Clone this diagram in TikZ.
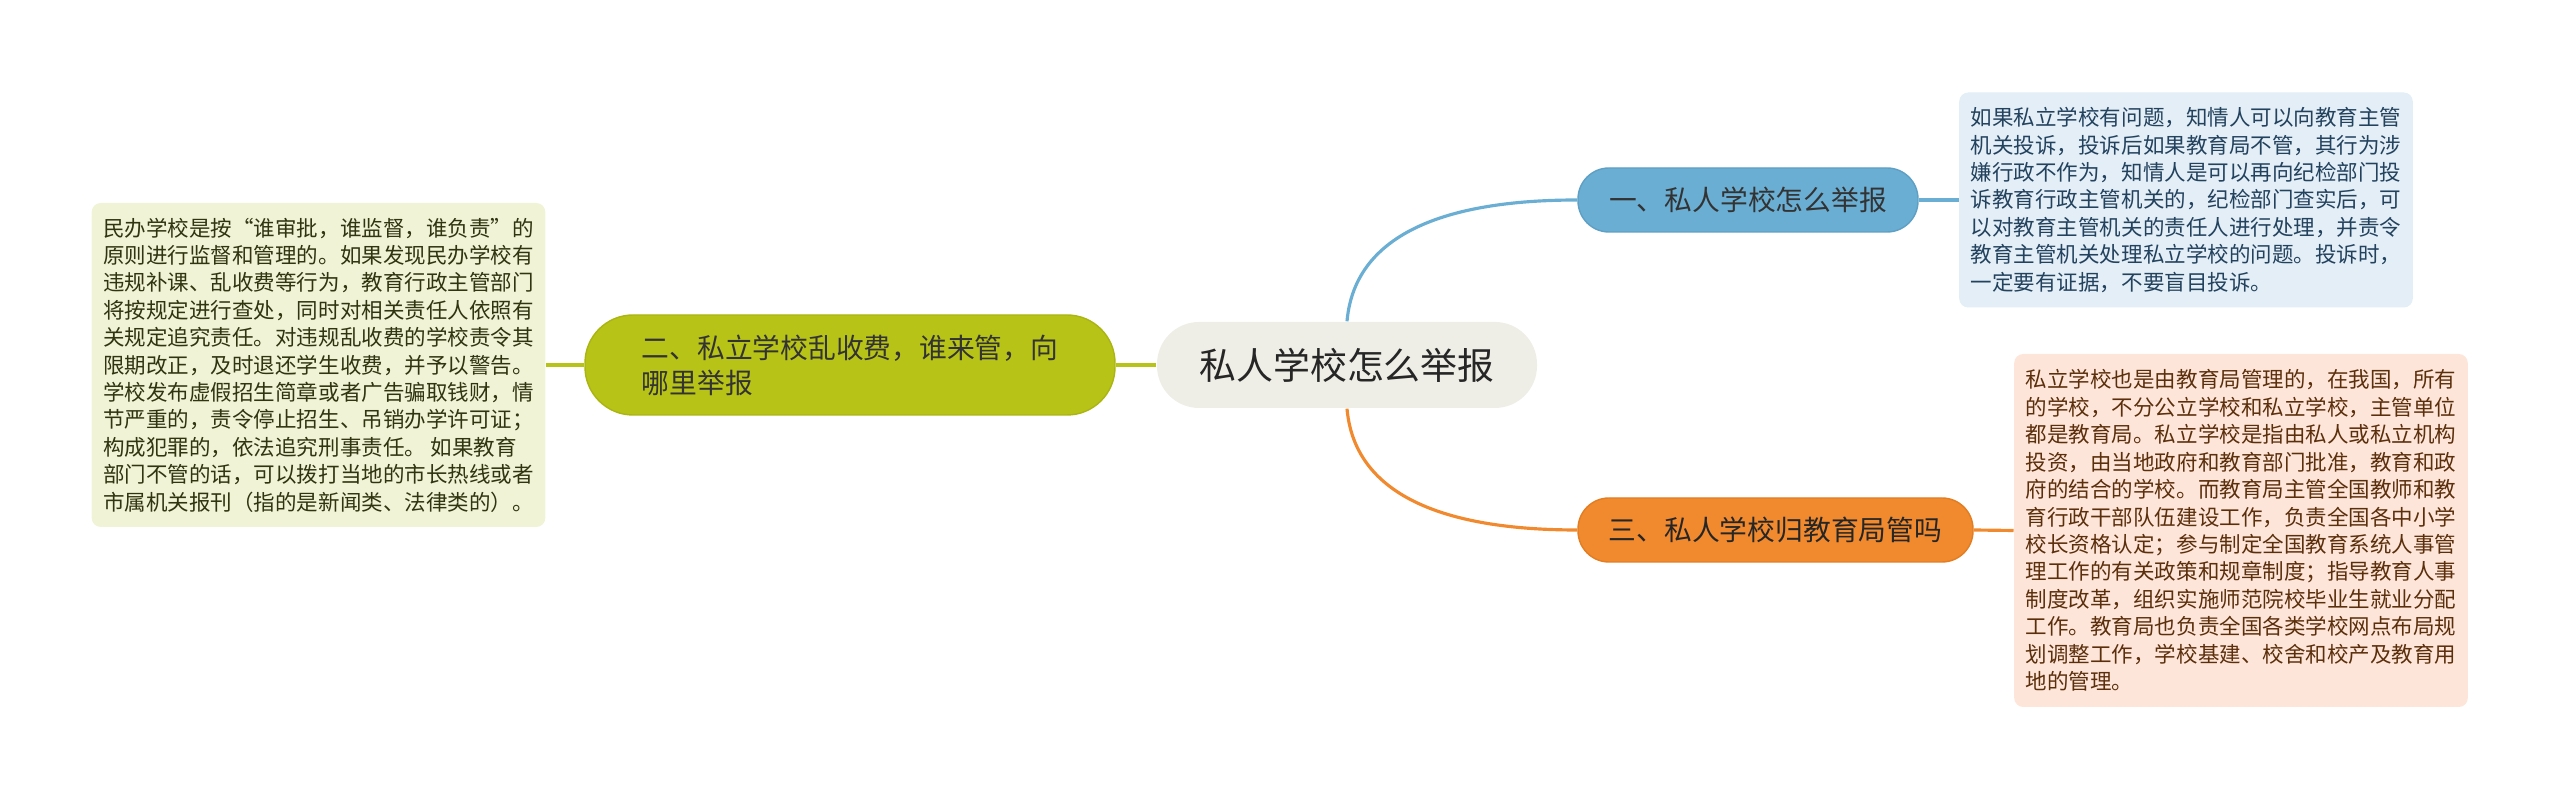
\documentclass[tikz,border=0pt]{standalone}
\usepackage{fontspec}
\setmainfont{Noto Sans CJK SC}
\definecolor{rootfill}{HTML}{EFEEE6}
\definecolor{bluetopic}{HTML}{6AAED3}
\definecolor{blueedge}{HTML}{5E9FC4}
\definecolor{bluenote}{HTML}{E3EEF6}
\definecolor{bluetext}{HTML}{23425E}
\definecolor{greentopic}{HTML}{B8C317}
\definecolor{greenedge}{HTML}{AAB512}
\definecolor{greennote}{HTML}{F1F3D7}
\definecolor{greentext}{HTML}{30340F}
\definecolor{orangetopic}{HTML}{F18A2E}
\definecolor{orangeedge}{HTML}{E27D22}
\definecolor{orangenote}{HTML}{FDE6D9}
\definecolor{orangetext}{HTML}{5C2F0C}

\begin{document}
\begin{tikzpicture}[root/.style={fill=rootfill, rounded corners=0.42cm, minimum width=3.8cm, minimum height=0.86cm, text=black!85, font=\fontsize{10.5pt}{12pt}\selectfont},topic/.style={draw, line width=0.4pt, rounded corners=0.31cm, minimum height=0.64cm, font=\fontsize{7.9pt}{10pt}\selectfont},note/.style={rounded corners=0.09cm, minimum width=4.52cm, align=left, font=\fontsize{6.12pt}{7.8pt}\selectfont},link/.style={line width=0.9pt}]
\useasboundingbox (0,0) rectangle (25.6,8);
\node[root] (root) at (13.47,4.35) {私人学校怎么举报};
\node[topic, fill=bluetopic, draw=blueedge, text=black!80, minimum width=3.4cm] (t1) at (17.48,6.0) {一、私人学校怎么举报};
\node[topic, fill=greentopic, draw=greenedge, text=black!80, minimum width=5.3cm, minimum height=1.0cm, rounded corners=0.48cm, align=left] (t2) at (8.5,4.35) {二、私立学校乱收费，谁来管，向\\哪里举报};
\node[topic, fill=orangetopic, draw=orangeedge, text=black!85, minimum width=3.95cm] (t3) at (17.755,2.7) {三、私人学校归教育局管吗};
\node[note, fill=bluenote, text=bluetext, minimum height=2.15cm] (n1) at (21.86,6.0) {如果私立学校有问题，知情人可以向教育主管\\机关投诉，投诉后如果教育局不管，其行为涉\\嫌行政不作为，知情人是可以再向纪检部门投\\诉教育行政主管机关的，纪检部门查实后，可\\以对教育主管机关的责任人进行处理，并责令\\教育主管机关处理私立学校的问题。投诉时，\\一定要有证据，不要盲目投诉。};
\node[note, fill=greennote, text=greentext, minimum height=3.24cm] (n2) at (3.185,4.35) {民办学校是按“谁审批，谁监督，谁负责”的\\原则进行监督和管理的。如果发现民办学校有\\违规补课、乱收费等行为，教育行政主管部门\\将按规定进行查处，同时对相关责任人依照有\\关规定追究责任。对违规乱收费的学校责令其\\限期改正，及时退还学生收费，并予以警告。\\学校发布虚假招生简章或者广告骗取钱财，情\\节严重的，责令停止招生、吊销办学许可证；\\构成犯罪的，依法追究刑事责任。 如果教育\\部门不管的话，可以拨打当地的市长热线或者\\市属机关报刊（指的是新闻类、法律类的）。};
\node[note, fill=orangenote, text=orangetext, minimum height=3.53cm] (n3) at (22.41,2.695) {私立学校也是由教育局管理的，在我国，所有\\的学校，不分公立学校和私立学校，主管单位\\都是教育局。私立学校是指由私人或私立机构\\投资，由当地政府和教育部门批准，教育和政\\府的结合的学校。而教育局主管全国教师和教\\育行政干部队伍建设工作，负责全国各中小学\\校长资格认定；参与制定全国教育系统人事管\\理工作的有关政策和规章制度；指导教育人事\\制度改革，组织实施师范院校毕业生就业分配\\工作。教育局也负责全国各类学校网点布局规\\划调整工作，学校基建、校舍和校产及教育用\\地的管理。};
\draw[link, bluetopic] (root.north) to[out=85, in=180] (t1.west);
\draw[link, orangetopic] (root.south) to[out=-85, in=180] (t3.west);
\draw[link, greentopic] (root.west) -- (t2.east);
\draw[link, bluetopic] (t1.east) -- (n1.west);
\draw[link, greentopic] (t2.west) -- (n2.east);
\draw[link, orangetopic] (t3.east) -- (n3.west);
\end{tikzpicture}
\end{document}
